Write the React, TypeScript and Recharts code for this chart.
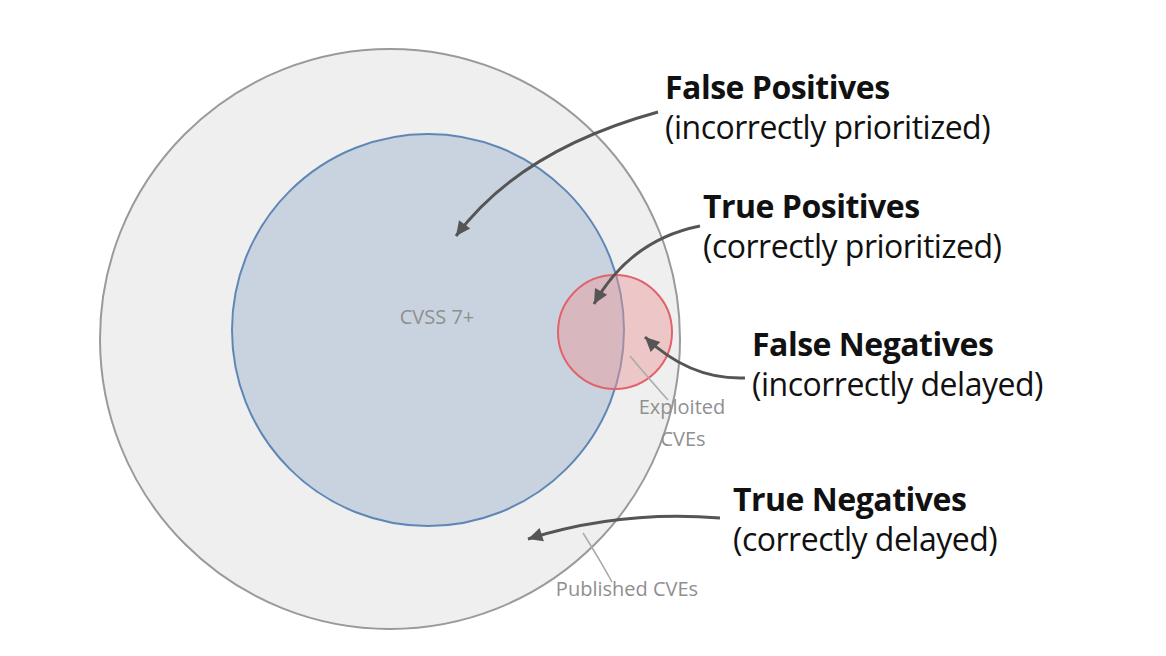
import React from 'react';
import { ScatterChart, Scatter, XAxis, YAxis } from 'recharts';

// circles: centre and radius in chart units (1 unit = 1px)
const circles = [
  { name: 'Published CVEs', x: 390, y: 339, r: 290, fill: '#efefef', stroke: '#9a9a9a' },
  { name: 'CVSS 7+', x: 428, y: 330, r: 196, fill: '#c9d3df', stroke: '#5f87b5' },
  { name: 'Exploited CVEs', x: 615, y: 332, r: 57, fill: 'rgba(236,150,150,0.45)', stroke: '#e0636b' },
];

const headings = [
  { x: 665, y: 88, title: 'False Positives', sub: '(incorrectly prioritized)' },
  { x: 703, y: 207, title: 'True Positives', sub: '(correctly prioritized)' },
  { x: 752, y: 345, title: 'False Negatives', sub: '(incorrectly delayed)' },
  { x: 733, y: 500, title: 'True Negatives', sub: '(correctly delayed)' },
];

const smallLabels = [
  { x: 437, y: 324, text: 'CVSS 7+', anchor: 'middle' },
  { x: 682, y: 414, text: 'Exploited', anchor: 'middle' },
  { x: 683, y: 446, text: 'CVEs', anchor: 'middle' },
  { x: 627, y: 596, text: 'Published CVEs', anchor: 'middle' },
];

// arrows: start, control, end
const arrows = [
  { x: 658, y: 112, cx: 520, cy: 150, ex: 456, ey: 236, head: true },
  { x: 700, y: 226, cx: 630, cy: 240, ex: 594, ey: 304, head: true },
  { x: 745, y: 378, cx: 690, cy: 380, ex: 645, ey: 337, head: true },
  { x: 720, y: 518, cx: 620, cy: 510, ex: 528, ey: 539, head: true },
  { x: 668, y: 400, cx: 650, cy: 380, ex: 630, ey: 356, head: false },
  { x: 612, y: 582, cx: 600, cy: 560, ex: 583, ey: 533, head: false },
];

const FONT = '"Open Sans", "Noto Sans", sans-serif';

const CircleShape = (p: any) => (
  <circle cx={p.cx} cy={p.cy} r={p.payload.r} fill={p.payload.fill} stroke={p.payload.stroke} strokeWidth={2} />
);

const HeadingShape = (p: any) => (
  <g fontFamily={FONT} fill="#111">
    <text x={p.cx} y={p.cy + 11} fontSize={32} fontWeight={700} letterSpacing={-0.5}>{p.payload.title}</text>
    <text x={p.cx} y={p.cy + 51} fontSize={32} letterSpacing={-0.5}>{p.payload.sub}</text>
  </g>
);

const SmallShape = (p: any) => (
  <text x={p.cx} y={p.cy} fontSize={20} fill="#8f8f8f" textAnchor={p.payload.anchor} fontFamily={FONT}>
    {p.payload.text}
  </text>
);

const ArrowShape = (p: any) => {
  const d = p.payload;
  const cx = p.cx + (d.cx - d.x), cy = p.cy + (d.cy - d.y);
  const ex = p.cx + (d.ex - d.x), ey = p.cy + (d.ey - d.y);
  const ang = Math.atan2(ey - cy, ex - cx);
  const L = 16, W = 0.45;
  const h1 = [ex - L * Math.cos(ang - W), ey - L * Math.sin(ang - W)];
  const h2 = [ex - L * Math.cos(ang + W), ey - L * Math.sin(ang + W)];
  const col = d.head ? '#555' : '#aaa';
  return (
    <g>
      <path d={`M${p.cx},${p.cy} Q${cx},${cy} ${ex},${ey}`} fill="none" stroke={col} strokeWidth={d.head ? 3 : 1.5} />
      {d.head && <path d={`M${ex},${ey} L${h1[0]},${h1[1]} L${h2[0]},${h2[1]} Z`} fill={col} />}
    </g>
  );
};

export default function App() {
  return (
    <div style={{ margin: -8, background: '#fff', width: 1166, height: 656 }}>
      <ScatterChart width={1166} height={656} margin={{ top: 0, right: 0, bottom: 0, left: 0 }}>
        <XAxis type="number" dataKey="x" domain={[0, 1166]} hide />
        <YAxis type="number" dataKey="y" domain={[0, 656]} reversed hide />
        <Scatter data={circles} shape={CircleShape} isAnimationActive={false} />
        <Scatter data={smallLabels} shape={SmallShape} isAnimationActive={false} />
        <Scatter data={arrows} shape={ArrowShape} isAnimationActive={false} />
        <Scatter data={headings} shape={HeadingShape} isAnimationActive={false} />
      </ScatterChart>
    </div>
  );
}
